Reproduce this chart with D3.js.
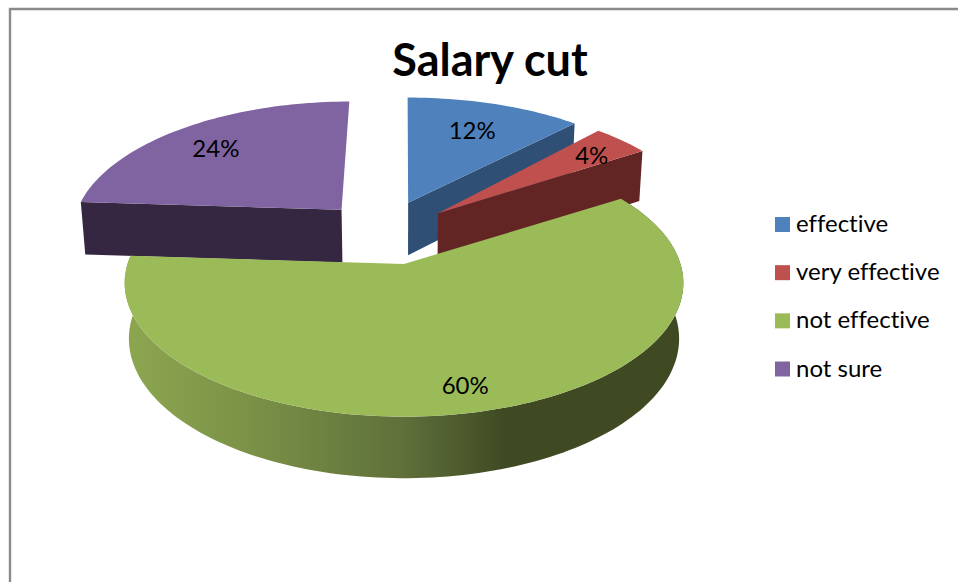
<!DOCTYPE html>
<html>
<head>
<meta charset="utf-8">
<script src="https://cdn.jsdelivr.net/npm/d3@7/dist/d3.min.js"></script>
<style>
html,body{margin:0;padding:0;background:#fff;overflow:hidden}
svg{display:block}
text{font-family:Lato,"Open Sans",sans-serif;fill:#000;font-variant-ligatures:none}
</style>
</head>
<body>
<svg id="c" width="958" height="582"></svg>
<script>
const title = "Salary cut";
const categories = ["effective", "very effective", "not effective", "not sure"];
const values = [12, 4, 60, 24];
const labels = ["12%", "4%", "60%", "24%"];
const topColors = ["#4f81bd", "#c0504d", "#9bbb59", "#8064a2"];
const wallColors = ["#2f4f75", "#632523", "url(#rim)", "#352741"];

// explosion of each slice on the pie plane, its radii and its label placement
const offsets = [[0.016, 0.5], [0.13, 0.41], [0, 0], [-0.24, 0.44]];
const radiiU = [1.04, 1.01, 1.0, 1.015];
const radiiV = [1.05, 1.07, 1.0, 1.065];
const labelRho = [0.74, 0.83, 0.843, 0.78];
const labelShift = [0, 0, -0.014, -0.004];

const W = 958, H = 582;
const svg = d3.select("#c");

// frame
svg.append("path").attr("d", d3.line()([[10, H + 5], [10, 9], [W + 5, 9]]))
  .attr("fill", "none").attr("stroke", "#8a8a8a").attr("stroke-width", 2.4);

// gradient on the rim of the big slice
const defs = svg.append("defs");
const grad = defs.append("linearGradient").attr("id", "rim")
  .attr("gradientUnits", "userSpaceOnUse").attr("x1", 125).attr("x2", 683).attr("y1", 0).attr("y2", 0);
[[0, "#8da650"], [0.2, "#7d9448"], [0.5, "#5f703a"], [0.68, "#3f4a23"], [1, "#3f4a23"]]
  .forEach(([o, c]) => grad.append("stop").attr("offset", o).attr("stop-color", c));

// projection of the pie plane
const sx = d3.scaleLinear().domain([-1, 1]).range([404 - 276.5, 404 + 276.5]);
const sy = d3.scaleLinear().domain([-1, 1]).range([264 + 131, 264 - 131]);
const persp = 0.142, zPersp = 0.015, zDrop = 0.4275;
const project = (u, v, z) => {
  const w = 1 + persp * v + zPersp * z;
  return [sx(u / w), sy((v - zDrop * z) / w)];
};

const pie = d3.pie().sort(null).value(d => d);
const arcs = pie(values);
const line = d3.line();

const rimPoints = (i, z) => {
  const a = arcs[i], [ou, ov] = offsets[i];
  const n = Math.max(8, Math.round((a.endAngle - a.startAngle) * 40));
  return d3.range(n + 1).map(k => {
    const t = a.startAngle + (a.endAngle - a.startAngle) * k / n;
    return project(ou + radiiU[i] * Math.sin(t), ov + radiiV[i] * Math.cos(t), z);
  });
};
const apex = (i, z) => project(offsets[i][0], offsets[i][1], z);

const g = svg.append("g");

// cut face of a slice along one of its straight edges
const cutFace = (i, edgeEnd) => {
  const rim0 = rimPoints(i, 0), rim1 = rimPoints(i, 1);
  const pick = edgeEnd ? rim0.length - 1 : 0;
  return line([apex(i, 0), rim0[pick], rim1[pick], apex(i, 1)]) + "Z";
};

// back slices
g.append("path").attr("d", cutFace(3, false)).attr("fill", wallColors[3]);
g.append("path").attr("d", cutFace(0, true)).attr("fill", wallColors[0]);
g.append("path").attr("d", line([apex(0, 0), ...rimPoints(0, 0)]) + "Z").attr("fill", topColors[0]);
g.append("path").attr("d", cutFace(1, true)).attr("fill", wallColors[1]);
g.append("path").attr("d", line([apex(1, 0), ...rimPoints(1, 0)]) + "Z").attr("fill", topColors[1]);
g.append("path").attr("d", line([apex(3, 0), ...rimPoints(3, 0)]) + "Z").attr("fill", topColors[3]);

// big slice: rim then top
g.append("path").attr("d", line([...rimPoints(2, 0), ...rimPoints(2, 1).reverse()]) + "Z").attr("fill", wallColors[2]);
g.append("path").attr("d", line([apex(2, 0), ...rimPoints(2, 0)]) + "Z").attr("fill", topColors[2]);

// data labels
svg.append("g").selectAll("text").data(arcs).join("text")
  .attr("text-anchor", "middle")
  .attr("font-size", 24)
  .attr("dy", "0.36em")
  .attr("transform", (a, i) => {
    const mid = (a.startAngle + a.endAngle) / 2;
    const p = project(offsets[i][0] + labelShift[i] + labelRho[i] * Math.sin(mid), offsets[i][1] + labelRho[i] * Math.cos(mid), 0);
    return `translate(${p})`;
  })
  .text((a, i) => labels[i]);

// title
svg.append("text").attr("x", 490).attr("y", 76).attr("text-anchor", "middle")
  .attr("font-size", 45).attr("font-weight", 700).text(title);

// legend
const legendY = d3.scalePoint().domain(categories).range([224.5, 369]);
const legend = svg.append("g").selectAll("g").data(categories).join("g")
  .attr("transform", d => `translate(775,${legendY(d)})`);
legend.append("rect").attr("x", 0).attr("y", -7.5).attr("width", 15).attr("height", 15)
  .attr("fill", (d, i) => topColors[i]);
legend.append("text").attr("x", 21).attr("y", 7.5).attr("font-size", 24).text(d => d);
</script>
</body>
</html>
